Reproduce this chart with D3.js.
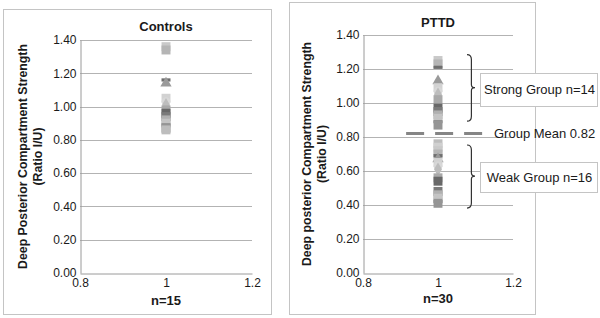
<!DOCTYPE html>
<html><head><meta charset="utf-8">
<script src="https://cdn.jsdelivr.net/npm/d3@7"></script>
<style>
body{margin:0;background:#fff;}
text{font-family:"Liberation Sans",Arial,sans-serif;fill:#1a1a1a;}
</style></head>
<body><svg id="c" width="600" height="318"></svg>
<script>
// ---- data ----
const yTicks = [0.00, 0.20, 0.40, 0.60, 0.80, 1.00, 1.20, 1.40];
const xTicks = [0.8, 1, 1.2];
const controlsValues = [1.36, 1.34, 1.16, 1.14, 1.05, 1.03, 1.01, 0.98, 0.96, 0.94, 0.92, 0.90, 0.89, 0.87, 0.86];
const strongValues = [1.25, 1.23, 1.21, 1.13, 1.09, 1.07, 1.05, 1.02, 0.97, 0.95, 0.93, 0.91, 0.89, 0.87];
const weakValues = [0.76, 0.74, 0.72, 0.70, 0.69, 0.67, 0.65, 0.63, 0.61, 0.56, 0.54, 0.48, 0.46, 0.44, 0.42, 0.41];
const groupMean = 0.82;
const meanExtent = [0.915, 1.12];
const panelTitles = ["Controls", "PTTD"];
const nLabels = ["n=15", "n=30"];
const yTitles = [["Deep Posterior Compartment Strength", "(Ratio I/U)"], ["Deep posterior Compartment Strength", "(Ratio I/U)"]];
const strongLabel = "Strong Group n=14";
const weakLabel = "Weak Group n=16";
const meanLabel = "Group Mean 0.82";

// ---- styling ----
const svg = d3.select("#c");
const markerStyles = [
  ["square", "#c9c9c9"], ["square", "#b5b5b5"], ["dash", "#6e6e6e"], ["triangle", "#9a9a9a"],
  ["square", "#d2d2d2"], ["circle", "#d8d8d8"], ["diamond", "#bdbdbd"], ["square", "#a9a9a9"],
  ["square", "#686868"], ["square", "#7a7a7a"], ["square", "#b0b0b0"], ["square", "#c4c4c4"],
  ["dash", "#8a8a8a"], ["square", "#959595"], ["square", "#bdbdbd"], ["square", "#d0d0d0"]
];
function symbolPath(shape) {
  if (shape === "dash") return "M-4.5,-1.6H4.5V1.6H-4.5Z";
  const t = {square: d3.symbolSquare, triangle: d3.symbolTriangle, circle: d3.symbolCircle, diamond: d3.symbolDiamond}[shape];
  const size = {square: 80, triangle: 55, circle: 60, diamond: 55}[shape];
  return d3.symbol(t, size)();
}

function panel(opt) {
  const g = svg.append("g");
  g.append("rect").attr("x", opt.box[0] + 0.5).attr("y", opt.box[1] + 0.5)
    .attr("width", opt.box[2]).attr("height", opt.box[3])
    .attr("fill", "#fff").attr("stroke", "#c4c4c4").attr("stroke-width", 1);
  const x = d3.scaleLinear().domain([0.8, 1.2]).range([opt.plot[0], opt.plot[1]]);
  const y = d3.scaleLinear().domain([0, 1.4]).range([opt.plot[3], opt.plot[2]]);
  // gridlines
  g.selectAll("line.grid").data(yTicks.filter(d => d > 0)).enter().append("line")
    .attr("x1", x(0.8)).attr("x2", x(1.2)).attr("y1", d => Math.round(y(d)) + 0.5).attr("y2", d => Math.round(y(d)) + 0.5)
    .attr("stroke", "#b3b3b3").attr("stroke-width", 1);
  // axes
  const yAxis = d3.axisLeft(y).tickValues(yTicks).tickFormat(d3.format(".2f")).tickSize(0).tickPadding(4);
  const ya = g.append("g").attr("transform", `translate(${Math.round(x(0.8)) + 0.5},0)`).call(yAxis);
  ya.select(".domain").attr("stroke", "#9a9a9a");
  ya.selectAll("text").style("font-size", "12px").attr("fill", "#1a1a1a");
  const xAxis = d3.axisBottom(x).tickValues(xTicks).tickFormat(d => String(d)).tickSize(0).tickPadding(5);
  const xa = g.append("g").attr("transform", `translate(0,${Math.round(y(0)) + 0.5})`).call(xAxis);
  xa.select(".domain").attr("stroke", "#9a9a9a");
  xa.selectAll("text").style("font-size", "12px").attr("fill", "#1a1a1a");
  // titles
  g.append("text").attr("x", x(1)).attr("y", opt.titleY).attr("text-anchor", "middle")
    .style("font-size", "13px").style("font-weight", "bold").text(opt.title);
  g.append("text").attr("x", x(1)).attr("y", opt.nY).attr("text-anchor", "middle")
    .style("font-size", "13px").style("font-weight", "bold").text(opt.n);
  const cy = (y(0) + y(1.4)) / 2 + opt.yTitleShift;
  opt.yTitle.forEach((t, i) => {
    g.append("text").attr("transform", `translate(${opt.yTitleX + i * 15},${cy}) rotate(-90)`)
      .attr("text-anchor", "middle").style("font-size", "12.3px").style("font-weight", "bold").text(t);
  });
  // markers
  opt.values.forEach((v, i) => {
    const st = markerStyles[i % markerStyles.length];
    g.append("path").attr("d", symbolPath(st[0]))
      .attr("transform", `translate(${x(1)},${y(v)})`).attr("fill", st[1]);
  });
  return {g, x, y};
}

panel({box: [3, 9, 268, 305], plot: [80, 252, 40, 273], title: panelTitles[0], titleY: 31, n: nLabels[0], nY: 305,
  yTitle: yTitles[0], yTitleX: 27, yTitleShift: 0, values: controlsValues});

const p2 = panel({box: [289, 2, 246, 312], plot: [363, 513, 35, 273], title: panelTitles[1], titleY: 27, n: nLabels[1], nY: 303,
  yTitle: yTitles[1], yTitleX: 311, yTitleShift: 0, values: strongValues.concat(weakValues)});

// mean line
const g2 = p2.g, x2 = p2.x, y2 = p2.y;
g2.append("line").attr("x1", x2(meanExtent[0])).attr("x2", x2(meanExtent[1]))
  .attr("y1", y2(groupMean)).attr("y2", y2(groupMean))
  .attr("stroke", "#858585").attr("stroke-width", 3).attr("stroke-dasharray", "18,11");
g2.append("text").attr("x", 494).attr("y", y2(groupMean) + 4.5).style("font-size", "13px").text(meanLabel);

function brace(xl, top, bottom, tip, w) {
  const xm = xl + w * 0.55, xt = xl + w, q = 5;
  return `M${xl},${top} Q${xm},${top} ${xm},${top + q} L${xm},${tip - 3} Q${xm},${tip} ${xt},${tip}` +
    ` Q${xm},${tip} ${xm},${tip + 3} L${xm},${bottom - q} Q${xm},${bottom} ${xl},${bottom}`;
}
const groups = [
  {top: 1.285, bottom: 0.893, tip: 1.09, label: strongLabel, bx: [480, 73, 117, 33]},
  {top: 0.753, bottom: 0.382, tip: 0.57, label: weakLabel, bx: [480, 162, 117, 30]}
];
groups.forEach(gr => {
  g2.append("path").attr("d", brace(467, y2(gr.top), y2(gr.bottom), y2(gr.tip), 8))
    .attr("fill", "none").attr("stroke", "#333").attr("stroke-width", 1.2);
  g2.append("rect").attr("x", gr.bx[0] + 0.5).attr("y", gr.bx[1] + 0.5).attr("width", gr.bx[2]).attr("height", gr.bx[3])
    .attr("fill", "#fff").attr("stroke", "#c4c4c4");
  g2.append("text").attr("x", gr.bx[0] + gr.bx[2] / 2 + 1).attr("y", gr.bx[1] + gr.bx[3] / 2 + 4.5)
    .attr("text-anchor", "middle").style("font-size", "13px").text(gr.label);
});
</script></body></html>
